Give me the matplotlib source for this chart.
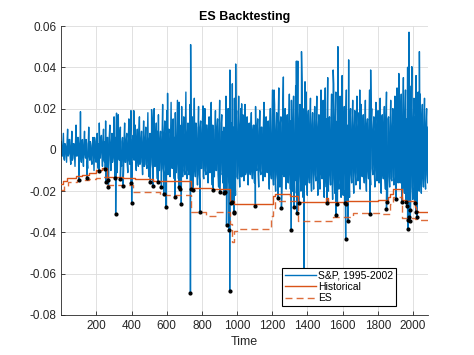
import matplotlib
matplotlib.use("Agg")
import matplotlib.pyplot as plt
import numpy as np

# daily returns (%): outer swings, one value every 6 trading days
base_ret = [
    0.4, -0.3, 0.8, -0.5, 0.2, -0.6, 1.0, -0.2, 0.5, -0.7, 0.9, -0.4, 0.3, -0.8, 1.2, -0.3, 0.6, -0.5, 0.7, -0.6,
    0.5, -0.8, 0.9, -0.4, 0.3, -0.9, 1.1, -0.5, 0.2, -0.7, 0.6, -1.0, 0.4, -0.6, 0.8, -0.9, 1.3, -0.4, 0.7, -0.8,
    1.0, -0.6, 1.4, -0.6, 0.6, -0.5, 1.2, -1.0, 0.8, -0.4, 1.6, -0.7, 0.9, -1.1, 1.7, -0.5, 1.1, -0.8, 0.6, -1.0,
    1.3, -0.6, 0.8, -1.1, 1.5, -0.7, 1.9, -0.9, 0.7, -0.5, 1.2, -1.0, 1.0, -0.8, 1.6, -0.6, 0.9, -1.2, 1.4, -0.7,
    1.1, -0.9, 1.8, -1.3, 0.8, -0.7, 1.5, -1.2, 2.0, -0.8, 1.3, -1.4, 1.7, -1.0, 0.9, -1.3, 2.2, -1.1, 1.4, -1.3,
    1.9, -1.2, 1.0, -1.3, 2.3, -0.9, 1.5, -1.4, 1.8, -1.1, 2.4, -1.4, 1.2, -0.8, 2.1, -1.3, 1.6, -1.2, 2.8, -1.4,
    1.3, -1.2, 2.2, -1.0, 1.6, -1.6, 2.5, -1.3, 1.1, -1.7, 2.1, -1.5, 1.4, -0.9, 1.8, -1.4, 2.0, -1.2, 1.2, -1.6,
    1.6, -1.1, 2.3, -1.7, 1.0, -1.3, 1.9, -1.0, 1.5, -1.8, 2.4, -1.2, 1.7, -1.6, 1.1, -1.5, 2.6, -1.5, 2.0, -1.7,
    2.8, -2.0, 3.2, -1.6, 2.5, -2.2, 1.9, -1.4, 2.6, -1.8, 2.0, -1.3, 1.7, -1.5, 2.2, -1.1, 1.6, -1.7, 1.3, -1.2,
    1.8, -1.4, 1.2, -1.6, 2.1, -1.0, 1.5, -1.8, 1.9, -1.2, 1.1, -1.5, 2.3, -1.3, 1.6, -1.1, 1.4, -1.9, 2.0, -1.4,
    2.9, -1.7, 2.2, -2.0, 1.8, -1.5, 3.0, -1.8, 1.6, -1.8, 2.5, -1.3, 2.0, -1.9, 1.7, -1.6, 2.7, -1.9, 2.4, -2.0,
    2.6, -2.1, 3.1, -1.8, 4.3, -2.4, 2.2, -2.0, 3.3, -2.3, 2.0, -1.7, 2.8, -2.2, 1.9, -1.6, 2.5, -2.0, 1.8, -1.9,
    2.1, -1.5, 2.6, -2.2, 1.7, -1.9, 2.9, -1.4, 2.4, -2.3, 3.0, -1.8, 2.3, -2.0, 1.6, -1.7, 2.7, -2.4, 3.2, -2.1,
    2.8, -2.2, 3.4, -1.9, 2.6, -2.3, 3.6, -2.2, 2.1, -2.0, 2.9, -1.8, 2.5, -2.3, 2.0, -1.6, 2.4, -2.1, 1.9, -1.7,
    2.6, -1.5, 1.8, -1.9, 2.2, -1.3, 1.7, -1.6, 2.4, -2.0, 1.5, -1.4, 2.9, -1.7, 2.0, -1.2, 1.6, -1.8, 2.3, -1.5,
    1.9, -1.6, 2.5, -2.1, 1.7, -1.4, 2.1, -1.9, 2.8, -2.2, 1.6, -1.8, 2.4, -1.5, 2.0, -1.7, 2.6, -1.7, 3.0, -1.6,
    3.3, -1.6, 2.7, -2.2, 3.5, -2.1, 2.9, -2.3, 4.0, -2.4, 3.1, -2.2, 3.8, -2.4, 2.5, -2.4, 3.6, -2.7, 2.8, -2.0,
    2.7, -2.1, 2.2, -1.8, 2.5, -1.9, 2.0, -1.6,
]

# smaller in-between moves (%), days 4, 10, 16, ...
inner_ret = [
    -0.3, 0.2, -0.4, 0.3, -0.2, 0.4, -0.3, 0.5, -0.4, 0.2, -0.5, 0.3, -0.2, 0.4, -0.3, 0.6, -0.2, 0.3, -0.4, 0.2,
    -0.4, 0.3, -0.2, 0.5, -0.6, 0.2, -0.3, 0.4, -0.5, 0.3, -0.2, 0.6, -0.4, 0.2, -0.5, 0.3, -0.3, 0.5, -0.2, 0.4,
    -0.5, 0.4, -0.3, 0.6, -0.4, 0.7, -0.5, 0.3, -0.6, 0.5, -0.4, 0.6, -0.7, 0.4, -0.3, 0.8, -0.5, 0.4, -0.6, 0.5,
    -0.6, 0.5, -0.7, 0.4, -0.5, 0.8, -0.6, 0.5, -0.4, 0.7, -0.6, 0.4, -0.5, 0.9, -0.7, 0.5, -0.6, 0.4, -0.8, 0.6,
    -0.7, 0.6, -0.8, 0.5, -0.9, 0.7, -0.6, 1.0, -0.8, 0.6, -0.7, 0.9, -1.0, 0.5, -0.8, 0.7, -0.9, 0.8, -0.6, 1.0,
    -0.9, 0.8, -1.0, 0.7, -0.8, 1.1, -0.9, 0.6, -1.1, 0.8, -0.7, 1.0, -0.9, 1.2, -0.8, 0.7, -1.0, 0.9, -1.1, 0.8,
    -1.0, 0.9, -1.2, 0.8, -1.1, 1.0, -0.9, 1.3, -1.0, 0.8, -1.2, 1.1, -0.9, 1.0, -1.3, 0.9, -1.0, 1.2, -0.8, 1.0,
    -1.1, 1.0, -0.9, 1.2, -1.3, 0.8, -1.0, 1.1, -1.2, 0.9, -1.1, 1.3, -1.0, 0.9, -1.2, 1.1, -1.4, 1.0, -1.3, 1.2,
    -1.4, 1.3, -1.5, 1.1, -1.2, 1.4, -1.3, 1.0, -1.1, 1.2, -1.3, 0.9, -1.0, 1.1, -1.2, 0.8, -1.0, 1.1, -0.9, 1.0,
    -1.0, 0.9, -1.1, 1.2, -0.8, 1.0, -1.2, 0.9, -1.0, 1.1, -0.9, 1.3, -1.1, 0.8, -1.0, 1.2, -1.3, 0.9, -1.1, 1.0,
    -1.3, 1.2, -1.4, 1.0, -1.2, 1.5, -1.1, 1.3, -1.4, 1.1, -1.2, 1.4, -1.3, 1.0, -1.5, 1.2, -1.1, 1.4, -1.3, 1.2,
    -1.4, 1.3, -1.5, 1.2, -1.6, 1.4, -1.3, 1.5, -1.2, 1.3, -1.4, 1.1, -1.3, 1.5, -1.2, 1.3, -1.4, 1.2, -1.1, 1.3,
    -1.2, 1.4, -1.3, 1.1, -1.5, 1.3, -1.2, 1.4, -1.6, 1.2, -1.3, 1.5, -1.4, 1.1, -1.2, 1.4, -1.5, 1.3, -1.4, 1.6,
    -1.5, 1.4, -1.6, 1.3, -1.4, 1.6, -1.5, 1.2, -1.3, 1.5, -1.4, 1.2, -1.3, 1.4, -1.2, 1.1, -1.3, 1.2, -1.1, 1.3,
    -1.1, 1.0, -1.2, 1.3, -0.9, 1.1, -1.2, 1.0, -1.3, 1.2, -1.0, 1.1, -1.2, 1.3, -0.9, 1.0, -1.1, 1.2, -1.0, 1.1,
    -1.2, 1.1, -1.3, 1.4, -1.1, 1.2, -1.4, 1.3, -1.2, 1.5, -1.3, 1.1, -1.4, 1.2, -1.3, 1.5, -1.2, 1.4, -1.5, 1.3,
    -1.5, 1.7, -1.6, 1.4, -1.8, 1.6, -1.7, 1.5, -1.9, 1.8, -1.6, 1.7, -1.8, 1.5, -1.9, 1.6, -1.7, 1.8, -1.5, 1.6,
    -1.4, 1.5, -1.3, 1.2, -1.4, 1.3, -1.2, 1.1,
]

# large up moves (day, %)
up_days = [110, 315, 413, 514, 605, 670, 709, 736, 806, 959, 992, 1026, 1210, 1263,
           1337, 1366, 1386, 1515, 1546, 1573, 1634, 1697, 1759, 1919, 1977, 1993, 2036]
up_ret = [1.85, 1.78, 1.9, 1.95, 2.74, 2.3, 2.8, 5.1, 2.13, 3.87, 4.16, 2.23, 2.9, 3.53,
          4.3, 4.76, 3.3, 3.5, 3.87, 5.0, 4.36, 2.9, 3.87, 3.7, 5.7, 4.03, 4.76]

# VaR failures (day, %)
fail_days = [100, 147, 216, 251, 255, 265, 269, 305, 310, 337, 352, 399, 401,
             507, 523, 551, 570, 583, 595, 646, 670, 678, 683, 735, 740, 750, 789,
             863, 901, 924, 934, 940, 955, 958, 964, 971, 981, 983, 1104,
             1233, 1252, 1308, 1323, 1340, 1350, 1380, 1511, 1561, 1570, 1612, 1617,
             1621, 1631, 1754, 1849, 1853, 1902, 1938, 1959, 1967, 1969, 1972, 1976,
             1980, 1984, 2010, 2016, 2021]
fail_ret = [-1.46, -1.38, -1.00, -0.94, -1.54, -1.46, -1.81, -1.36, -3.11, -1.42, -1.73, -1.59, -2.56,
            -1.54, -1.73, -1.55, -1.81, -2.12, -2.75, -2.27, -1.78, -1.89, -2.62, -6.93, -1.89, -1.94, -2.99,
            -1.94, -2.02, -2.10, -2.02, -3.64, -3.88, -6.85, -2.59, -2.54, -3.07, -2.99, -2.72,
            -2.35, -2.83, -3.88, -2.78, -3.04, -2.59, -5.8, -2.59, -3.16, -2.64, -2.56, -4.34,
            -2.62, -3.45, -3.12, -2.88, -2.51, -2.38, -2.51, -2.51, -2.70, -3.40, -3.85, -3.24,
            -2.91, -3.43, -2.59, -3.03, -3.27]

# historical VaR steps (day, %)
var_days = [1, 12, 35, 85, 120, 160, 200, 235, 262, 300, 350, 420, 523, 738, 860, 962, 985,
            1205, 1215, 1300, 1345, 1505, 1515, 1620, 1800, 1855, 1870, 1885, 1935, 1962,
            2012, 2018, 2028, 2087]
var_lvl = [-1.65, -1.5, -1.35, -1.28, -1.22, -1.12, -0.97, -0.90, -1.32, -1.32, -1.38, -1.40, -1.50,
           -1.85, -1.90, -2.50, -2.60, -2.25, -2.15, -2.25, -2.55, -2.35, -2.55, -2.50, -2.45,
           -2.30, -2.15, -1.92, -2.45, -2.50, -2.75, -2.95, -3.0, -3.0]

# expected shortfall steps (day, %)
es_days = [1, 15, 40, 90, 160, 200, 235, 262, 410, 560, 738, 825, 882, 962, 970, 985, 1000,
           1195, 1205, 1215, 1345, 1545, 1660, 1810, 1870, 1885, 1935, 2012, 2025, 2087]
es_lvl = [-1.95, -1.75, -1.55, -1.45, -1.40, -1.35, -1.30, -1.72, -2.06, -2.18, -3.03, -3.20, -3.02,
          -3.60, -4.45, -3.95, -3.85, -3.20, -2.80, -2.50, -3.47, -3.24, -3.07, -3.10, -2.60,
          -2.27, -3.30, -3.35, -3.40, -3.40]

base_days = 1 + 6 * np.arange(len(base_ret))
inner_days = 4 + 6 * np.arange(len(inner_ret))
days = np.concatenate([base_days, inner_days, up_days, fail_days])
rets = np.concatenate([base_ret, inner_ret, up_ret, fail_ret]) / 100
order = np.argsort(days, kind="stable")
days, rets = days[order], rets[order]

plt.rcParams['font.family'] = ['Liberation Sans', 'DejaVu Sans']
fig = plt.figure(figsize=(4.74, 3.55), dpi=100)
ax = fig.add_axes([0.1293, 0.1127, 0.7737, 0.8140])

blue = '#0072BD'
orange = '#D95319'
ax.plot(days, rets, color=blue, lw=1.0, label='S&P, 1995-2002', zorder=2)
ax.plot(var_days, np.array(var_lvl) / 100, color=orange, lw=1.0, drawstyle='steps-post',
        label='Historical', zorder=3)
ax.plot(es_days, np.array(es_lvl) / 100, color=orange, lw=1.0, ls=(0, (5, 3)),
        drawstyle='steps-post', label='ES', alpha=0.85, zorder=3)
ax.plot(fail_days, np.array(fail_ret) / 100, '.', color='black', ms=4, zorder=4)

ax.set_xlim(1, 2085)
ax.set_ylim(-0.08, 0.06)
ax.set_xticks(range(200, 2001, 200))
yt = [-0.08, -0.06, -0.04, -0.02, 0, 0.02, 0.04, 0.06]
ax.set_yticks(yt)
ax.set_yticklabels(['-0.08', '-0.06', '-0.04', '-0.02', '0', '0.02', '0.04', '0.06'])
ax.tick_params(direction='in', labelsize=8.5, colors='#262626', length=3, width=0.6)
ax.grid(True, color='#dcdcdc', lw=0.6)
ax.set_axisbelow(True)
for s in ['top', 'right']:
    ax.spines[s].set_visible(False)
for s in ['left', 'bottom']:
    ax.spines[s].set_color('#262626')
    ax.spines[s].set_linewidth(0.6)

ax.set_xlabel('Time', fontsize=9, color='#262626', labelpad=3)
ax.set_title('ES Backtesting', fontsize=9, fontweight='bold', pad=4)

leg = ax.legend(loc='lower right', bbox_to_anchor=(0.913, 0.031), fontsize=7.5,
                fancybox=False, framealpha=1, edgecolor='black', borderpad=0.25,
                handlelength=3.0, handletextpad=0.2, labelspacing=0.15, borderaxespad=0)
leg.get_frame().set_linewidth(0.8)
leg.set_zorder(5)

fig.savefig('out.png', dpi=100)
